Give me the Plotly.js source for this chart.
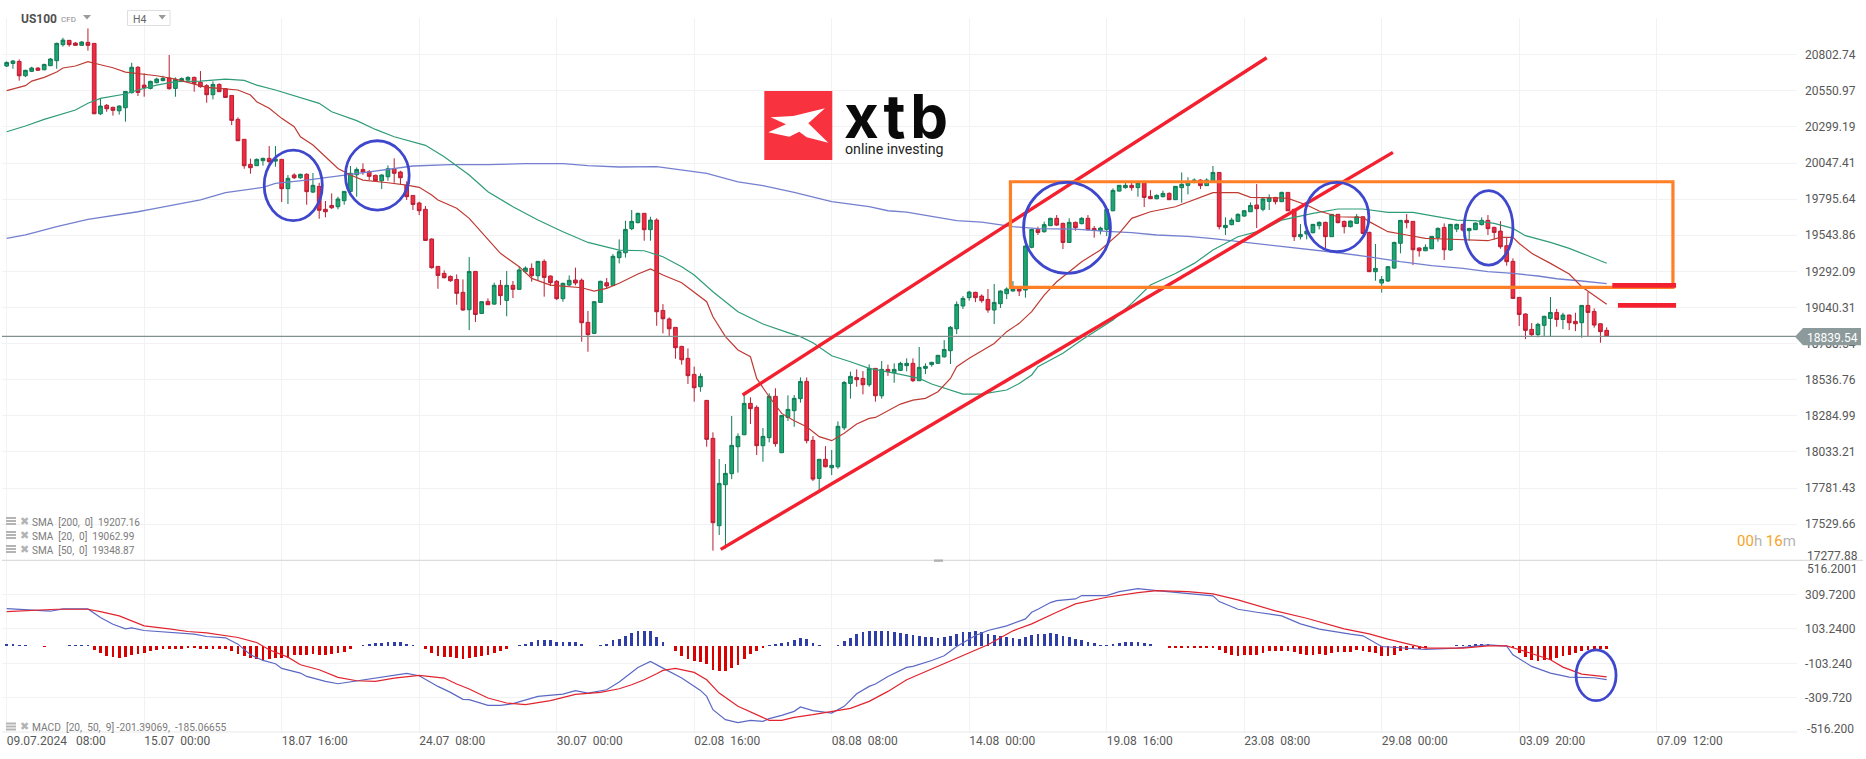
<!DOCTYPE html>
<html><head><meta charset="utf-8">
<script src="https://cdn.plot.ly/plotly-3.0.1.min.js"></script>
<style>html,body{margin:0;padding:0;background:#fff}#c{width:1866px;height:759px}</style>
</head><body><div id="c"></div>
<script>
const candleOpen=[20724,20742,20756,20656,20687,20710,20698,20726,20761,20873,
20903,20884,20868,20889,20882,20391,20450,20436,20412,20433,
20538,20715,20591,20568,20608,20622,20640,20568,20622,20626,
20645,20610,20587,20524,20596,20566,20519,20352,20213,20038,
20029,20064,20080,20061,20073,19869,19964,19945,19969,19845,
19885,19725,19752,19743,19785,19850,19966,20003,19987,19962,
19924,19952,20008,19985,19892,19822,19769,19725,19518,19327,
19278,19257,19236,19146,19025,19292,18999,19083,19064,19195,
19090,19195,19167,19290,19313,19262,19362,19260,19223,19102,
19197,19232,19230,18937,18860,19076,19213,19195,19388,19422,
19590,19632,19697,19583,19650,19020,18960,18902,18769,18686,
18574,18488,18393,18128,17519,17805,17882,18070,18153,18372,
18344,18077,18133,18421,18028,18274,18321,18405,18525,18114,
17849,17982,17923,17930,18202,18511,18553,18546,18502,18616,
18425,18609,18586,18602,18635,18651,18530,18616,18642,18651,
18697,18739,18892,19051,19109,19146,19120,19097,19023,19067,
19137,19155,19171,19162,19460,19585,19569,19611,19662,19627,
19494,19634,19625,19662,19592,19576,19585,19715,19852,19876,
19892,19876,19910,19815,19799,19813,19836,19792,19876,19892,
19915,19929,19890,19920,19982,19597,19618,19641,19678,19708,
19755,19725,19780,19808,19778,19843,19725,19534,19553,19562,
19611,19634,19534,19690,19641,19604,19627,19673,19564,19290,
19211,19225,19315,19488,19648,19641,19455,19436,19450,19527,
19599,19441,19587,19620,19576,19583,19618,19648,19599,19573,
19471,19362,19111,18995,18888,18851,18916,18964,19006,18957,
18988,18944,18934,19055,19013,18927,18881];
const candleHigh=[20756,20766,20770,20698,20719,20715,20740,20780,20887,20921,
20905,20891,20898,20986,20882,20494,20459,20440,20450,20547,
20747,20724,20673,20622,20642,20656,20801,20645,20645,20652,
20649,20689,20598,20617,20603,20568,20519,20366,20213,20078,
20080,20085,20166,20166,20073,19964,19976,19973,19976,19978,
19910,19783,19836,19813,19852,20027,20017,20045,19999,19966,
19969,20031,20080,19994,19920,19822,19778,19748,19522,19327,
19299,19264,19271,19236,19392,19295,19083,19104,19213,19232,
19295,19225,19325,19327,19348,19362,19376,19262,19232,19213,
19264,19318,19243,19016,19083,19227,19246,19413,19515,19645,
19720,19701,19697,19673,19662,19064,18972,18902,18774,18755,
18628,18581,18393,18170,17984,17949,18284,18163,18430,18414,
18358,18200,18442,18477,18290,18428,18430,18553,18553,18144,
17982,18074,18047,18246,18528,18593,18609,18597,18644,18616,
18667,18642,18651,18662,18686,18686,18765,18651,18662,18709,
18813,18911,19083,19120,19157,19150,19132,19169,19204,19160,
19181,19225,19181,19476,19590,19604,19639,19666,19685,19632,
19662,19639,19671,19685,19608,19604,19732,19871,19894,19910,
19910,19917,19917,19859,19829,19855,19843,19887,19982,19948,
19941,19934,19941,20027,19982,19669,19666,19697,19720,19773,
19901,19808,19829,19810,19848,19843,19725,19622,19604,19622,
19641,19639,19692,19692,19646,19646,19692,19673,19569,19483,
19260,19329,19499,19650,19692,19641,19460,19481,19539,19599,
19627,19622,19625,19625,19594,19632,19669,19685,19604,19643,
19527,19383,19111,18999,18932,18934,18983,19113,19030,19004,
18990,19004,19057,19148,19034,18930,18902];
const candleLow=[20717,20705,20622,20647,20682,20691,20694,20724,20705,20859,
20859,20866,20866,20831,20389,20382,20405,20378,20385,20336,
20533,20515,20510,20561,20603,20617,20559,20510,20617,20617,
20545,20573,20468,20491,20543,20503,20312,20201,20008,19973,
20027,20029,20041,20022,19776,19762,19936,19938,19757,19838,
19659,19669,19727,19725,19757,19848,19813,19966,19929,19917,
19866,19924,19910,19901,19790,19720,19685,19506,19311,19171,
19243,19220,19060,19018,18883,18939,18997,19057,19060,19057,
18979,19106,19164,19278,19220,19232,19116,19190,19092,19081,
19190,19195,18802,18732,18858,19074,19171,19192,19348,19388,
19580,19627,19506,19506,18913,18860,18841,18683,18642,18507,
18384,18453,18070,17345,17454,17361,17844,17889,18151,18228,
18012,17965,18100,18070,18026,18249,18209,18377,18093,17830,
17763,17926,17872,17916,18186,18405,18488,18435,18488,18384,
18405,18563,18516,18597,18595,18521,18528,18576,18628,18649,
18690,18646,18855,19030,19088,19078,19074,19004,18925,19037,
19099,19153,19120,19109,19453,19546,19562,19608,19608,19448,
19490,19576,19620,19578,19527,19550,19539,19711,19848,19869,
19855,19813,19741,19797,19794,19808,19790,19790,19771,19829,
19906,19866,19887,19915,19585,19546,19613,19636,19673,19706,
19594,19711,19720,19759,19776,19713,19504,19515,19515,19557,
19585,19453,19532,19627,19557,19599,19622,19550,19288,19227,
19144,19218,19311,19418,19592,19336,19395,19434,19448,19499,
19371,19436,19566,19569,19506,19580,19613,19546,19515,19450,
19332,19102,18911,18820,18841,18832,18837,18837,18906,18890,
18883,18876,18830,18837,18900,18795,18839];
const candleClose=[20749,20759,20656,20694,20710,20694,20735,20773,20882,20905,
20873,20868,20891,20868,20391,20445,20426,20415,20445,20547,
20715,20540,20573,20617,20633,20638,20566,20631,20636,20645,
20603,20580,20524,20596,20545,20505,20345,20203,20029,20015,
20073,20080,20057,20075,19869,19941,19945,19969,19848,19892,
19718,19708,19736,19797,19850,19976,20003,19985,19955,19924,
19964,20008,19976,19945,19813,19759,19715,19508,19318,19264,
19248,19227,19139,19023,19292,18992,19081,19060,19195,19123,
19195,19167,19302,19315,19262,19362,19250,19213,19102,19209,
19230,19211,18934,18851,19081,19223,19190,19397,19429,19585,
19641,19697,19583,19650,19011,18962,18892,18760,18676,18565,
18481,18560,18121,17540,17814,17884,18079,18142,18372,18335,
18077,18142,18421,18091,18288,18330,18407,18525,18112,17844,
17982,17930,17940,18212,18518,18560,18537,18502,18616,18425,
18609,18593,18609,18651,18651,18530,18623,18630,18658,18707,
18748,18902,19062,19104,19148,19109,19088,19023,19076,19155,
19169,19171,19155,19469,19585,19564,19618,19662,19615,19494,
19634,19597,19662,19583,19578,19594,19725,19857,19892,19892,
19876,19910,19808,19799,19822,19836,19792,19885,19899,19917,
19929,19890,19929,19982,19604,19613,19650,19690,19715,19752,
19729,19797,19806,19778,19843,19715,19534,19550,19573,19620,
19634,19534,19690,19632,19604,19643,19673,19557,19290,19313,
19236,19325,19494,19648,19632,19443,19436,19460,19536,19592,
19443,19620,19620,19580,19592,19629,19648,19590,19564,19464,
19360,19104,18992,18881,18851,18923,18979,19006,18957,18988,
18934,18927,19055,19006,18918,18872,18841];
const macdHist=[12,12,8,4,0,0,-4,0,0,3,
6,8,8,4,-22,-42,-58,-66,-70,-66,
-54,-48,-42,-28,-22,-16,-16,-16,-16,-12,
-10,-16,-16,-16,-16,-18,-28,-46,-62,-74,
-80,-84,-78,-74,-70,-70,-56,-54,-52,-46,
-52,-52,-48,-42,-34,-16,0,8,14,20,
20,26,26,26,12,8,0,-16,-40,-58,
-64,-66,-72,-80,-70,-68,-60,-54,-42,-28,
-18,0,4,14,26,38,38,38,26,26,
26,26,12,0,2,8,14,38,42,62,
82,92,92,92,56,26,0,-32,-58,-76,
-88,-94,-106,-142,-152,-148,-132,-112,-76,-46,
-28,-14,8,14,18,26,38,48,42,18,
6,2,0,8,32,48,74,88,92,92,
92,92,84,78,74,68,62,56,56,48,
56,62,74,84,88,92,84,74,68,62,
54,48,44,54,68,74,74,80,74,62,
56,44,38,26,20,8,8,12,20,26,
26,26,20,12,2,0,-12,-12,-14,-14,
-14,-14,-14,-14,-26,-44,-52,-58,-56,-52,
-52,-42,-32,-28,-28,-28,-38,-46,-52,-52,
-48,-52,-40,-34,-34,-34,-26,-32,-38,-42,
-58,-58,-52,-32,-26,-18,-18,-14,0,2,
0,2,4,6,8,12,12,12,8,2,
0,-12,-42,-66,-86,-88,-84,-82,-72,-58,
-52,-42,-32,-22,-18,-18,-16];

const sma20Bars=[0,3,4,6,8,9,11,13,15,17,19,22,24,27,29,32,34,37,39,40,42,44,46,47,49,51,53,55,57,61,64,66,68,69,72,74,77,79,82,84,87,89,92,94,96,98,101,103,105,108,110,112,113,115,117,119,120,122,124,126,128,130,132,134,136,138,139,141,143,145,147,149,151,152,154,158,160,162,164,166,168,170,172,175,178,180,183,187,190,193,197,199,204,205,208,210,213,217,218,221,224,227,230,233,237,239,241,242,244,247,250,252,256];
const sma20Vals=[20552,20587,20619,20645,20682,20710,20724,20754,20733,20712,20682,20668,20656,20633,20608,20575,20568,20557,20522,20475,20429,20359,20301,20231,20173,20092,20010,19964,19929,19910,19894,19878,19824,19790,19732,19662,19511,19418,19325,19243,19197,19190,19178,19155,19174,19209,19274,19309,19267,19213,19150,19081,18976,18837,18744,18697,18546,18418,18302,18251,18209,18140,18112,18163,18228,18267,18274,18321,18367,18395,18407,18453,18546,18628,18686,18790,18872,18930,19011,19127,19220,19290,19360,19441,19557,19662,19708,19743,19790,19841,19841,19808,19804,19801,19755,19713,19673,19669,19639,19569,19546,19522,19518,19511,19506,19529,19529,19487,19418,19348,19274,19185,19063];
const sma50Bars=[0,3,6,11,13,15,19,21,24,27,31,35,38,40,43,46,50,52,56,59,62,67,70,74,77,81,85,89,93,98,102,105,108,110,113,117,121,125,127,129,132,135,138,143,146,148,151,153,156,160,162,164,165,169,172,177,180,183,187,190,193,197,201,204,209,213,217,221,225,228,232,235,238,241,243,247,250,253,256];
const sma50Vals=[20266,20306,20352,20417,20464,20498,20529,20557,20591,20615,20619,20633,20624,20591,20557,20517,20464,20405,20343,20282,20231,20171,20092,19964,19848,19743,19650,19569,19494,19441,19436,19394,19325,19267,19150,19011,18925,18865,18837,18795,18704,18662,18616,18574,18546,18507,18465,18437,18437,18465,18511,18570,18628,18721,18813,18953,19069,19197,19278,19348,19441,19534,19580,19650,19697,19727,19727,19704,19704,19680,19650,19646,19627,19592,19541,19494,19453,19401,19349];
const sma200Bars=[0,3,5,8,13,18,21,23,26,31,35,41,43,48,55,60,65,71,77,83,89,93,98,104,107,112,117,121,126,132,138,141,144,152,156,161,165,171,176,180,184,189,193,197,203,207,213,218,223,228,233,237,241,245,248,252,256];
const sma200Vals=[19522,19546,19569,19604,19655,19685,19708,19725,19750,19790,19841,19878,19906,19929,19969,19999,20027,20036,20036,20043,20043,20029,20020,20022,20006,19976,19917,19890,19843,19778,19743,19715,19706,19646,19636,19604,19590,19587,19571,19562,19546,19536,19520,19501,19471,19453,19422,19394,19360,19332,19313,19290,19278,19260,19241,19225,19207];
const macdBars=[0,3,7,9,13,15,17,19,20,22,26,28,30,32,35,37,39,41,43,44,47,48,51,53,56,60,64,66,69,71,73,74,77,79,81,85,89,91,93,96,98,101,103,105,108,111,112,113,115,117,119,121,122,124,126,127,129,132,134,136,138,139,141,144,145,148,150,152,155,157,160,163,164,165,167,168,171,172,174,176,178,181,184,187,189,193,194,197,200,204,207,210,215,217,220,223,227,232,237,240,241,244,247,250,254,256];
const macdVals=[226,218,210,224,224,172,132,104,110,94,84,76,72,58,50,12,-52,-86,-106,-134,-162,-182,-212,-226,-208,-184,-164,-178,-242,-278,-320,-322,-356,-356,-346,-302,-288,-268,-282,-262,-216,-128,-92,-132,-192,-266,-302,-382,-442,-460,-446,-452,-436,-416,-392,-366,-388,-402,-362,-286,-242,-228,-182,-128,-122,-86,-58,-2,64,94,122,164,204,222,262,274,284,304,304,304,328,346,334,322,314,302,268,222,204,182,134,102,72,62,-2,-10,-20,-12,8,0,-52,-122,-162,-186,-190,-201];
const signalBars=[0,3,5,8,13,15,18,20,22,26,29,32,34,37,40,42,45,47,50,53,56,59,62,66,70,72,74,77,80,83,87,89,91,95,98,100,102,104,105,107,110,112,114,117,120,122,124,126,129,132,135,138,141,144,148,150,153,157,161,164,168,171,176,181,184,189,193,197,203,208,214,218,221,224,227,233,237,240,243,247,249,252,256];
const signalVals=[208,214,218,222,222,208,182,154,122,104,88,80,68,52,22,-22,-66,-112,-142,-188,-208,-212,-192,-176,-192,-228,-258,-312,-342,-352,-328,-308,-290,-278,-256,-232,-202,-166,-146,-134,-158,-202,-282,-362,-412,-446,-446,-428,-412,-392,-374,-332,-272,-202,-138,-106,-58,8,92,134,204,254,294,322,334,328,314,278,212,168,104,74,42,14,-12,-12,2,2,-32,-82,-126,-168,-185];

const dateTickBars=[0,22,44,66,88,110,132,154,176,198,220,242,264];
const dateTickText=["09.07.2024\u00a0\u00a0\u00a008:00","15.07\u00a0\u00a000:00","18.07\u00a0\u00a016:00","24.07\u00a0\u00a008:00","30.07\u00a0\u00a000:00","02.08\u00a0\u00a016:00","08.08\u00a0\u00a008:00","14.08\u00a0\u00a000:00","19.08\u00a0\u00a016:00","23.08\u00a0\u00a008:00","29.08\u00a0\u00a000:00","03.09\u00a0\u00a020:00","07.09\u00a0\u00a012:00"];
const priceTicks=[20802.74,20550.97,20299.19,20047.41,19795.64,19543.86,19292.09,19040.31,18788.54,18536.76,18284.99,18033.21,17781.43,17529.66,17277.88];
const macdTicks=[516.2001,309.72,103.24,-103.24,-309.72,-516.2];
const macdTickText=["","309.7200","103.2400","-103.240","-309.720",""];
const lastPrice=18839.54;

const PW=1795,PH=714,LEFT=2,TOP=18;
const X=p=>(p-LEFT)/PW, Y=p=>(TOP+PH-p)/PH;
const barIdx=candleOpen.map((_,i)=>i);
const grey='#585858';
const font='Roboto, sans-serif';

const traces=[
 {type:'scatter',mode:'lines',x:sma200Bars,y:sma200Vals,line:{color:'#7480cf',width:1.3},hoverinfo:'skip'},
 {type:'scatter',mode:'lines',x:sma50Bars,y:sma50Vals,line:{color:'#2f9c78',width:1.2},hoverinfo:'skip'},
 {type:'scatter',mode:'lines',x:sma20Bars,y:sma20Vals,line:{color:'#bf3a33',width:1.2},hoverinfo:'skip'},
 {type:'candlestick',x:barIdx,open:candleOpen,high:candleHigh,low:candleLow,close:candleClose,whiskerwidth:0,
  increasing:{line:{color:'#0f7a55',width:1},fillcolor:'#1ba672'},
  decreasing:{line:{color:'#b81d33',width:1},fillcolor:'#f02c41'},hoverinfo:'skip'},
 {type:'bar',x:barIdx,y:macdHist,yaxis:'y2',width:0.46,marker:{color:macdHist.map(v=>v>=0?'#2f3da6':'#d90000'),line:{width:0}},hoverinfo:'skip'},
 {type:'scatter',mode:'lines',x:macdBars,y:macdVals,yaxis:'y2',line:{color:'#5b68c4',width:1.2},hoverinfo:'skip'},
 {type:'scatter',mode:'lines',x:signalBars,y:signalVals,yaxis:'y2',line:{color:'#e2242e',width:1.2},hoverinfo:'skip'}
];

const redLine=(x0,y0,x1,y1,w)=>({type:'line',xref:'x',yref:'y',x0,y0,x1,y1,line:{color:'#f3202f',width:w}});
const ring=(x0,x1,y0,y1,yref)=>({type:'circle',xref:'x',yref:yref||'y',x0,x1,y0,y1,line:{color:'#3f48cc',width:2.8}});
const pxPath=(pts,fill,extra)=>Object.assign({type:'path',xref:'paper',yref:'paper',
  path:'M '+pts.map(p=>X(p[0])+','+Y(p[1])).join(' L ')+' Z',fillcolor:fill,line:{width:0}},extra||{});
const pxRect=(x0,y0,x1,y1,fill,lc,lw)=>({type:'rect',xref:'paper',yref:'paper',x0:X(x0),x1:X(x1),y0:Y(y0),y1:Y(y1),fillcolor:fill,line:{color:lc||fill,width:lw||0}});

const shapes=[
 {type:'line',xref:'paper',yref:'paper',x0:0,x1:X(1863),y0:Y(560.4),y1:Y(560.4),line:{color:'#dcdcdc',width:1.2}},
 {type:'line',xref:'paper',yref:'paper',x0:0,x1:1,y0:Y(732),y1:Y(732),line:{color:'#e9e9e9',width:1}},
 pxRect(934,559.5,943,561.8,'#b0b0b0'),
 {type:'line',xref:'paper',yref:'y',x0:0,x1:1,y0:lastPrice,y1:lastPrice,line:{color:'#80908f',width:1.2}},
 pxPath([[1795,336.7],[1803,328],[1861,328],[1861,345.3],[1803,345.3]],'#8c9a9c'),
 redLine(117.75,18430,201.6,20782,3.4),
 redLine(114.25,17354,221.8,20122,3.4),
 {type:'rect',xref:'x',yref:'y',x0:160.6,x1:266.6,y0:19181,y1:19917,line:{color:'#ff7f27',width:3.2}},
 redLine(256.9,19195,267.1,19195,4.6),
 redLine(257.8,19055,267.1,19055,4.6),
 ring(41.2,50.5,19646,20138),
 ring(54.2,64.4,19720,20203),
 ring(162.7,176.6,19278,19913),
 ring(207.7,217.95,19429,19913),
 ring(233.2,241,19336,19855),
 ring(251.1,257.5,-328,-22,'y2'),
 // logo
 pxRect(764.3,91,832.3,160,'#f9323f'),
 pxPath([[770.7,117.3],[793.3,116],[825,108.3],[808.3,123.3],[828.3,142.7],[806.7,137.3],[799.3,131.7],[789.3,136.7],[768.3,132.3],[786,124.3]],'#ffffff'),
 // toolbar
 pxPath([[83,15],[91,15],[87,19.5]],'#9a9a9a'),
 pxRect(127.5,10.5,170,25.5,'rgba(0,0,0,0)','#dedede',1),
 pxPath([[158.5,15],[166,15],[162.2,19.5]],'#9a9a9a')
];
[522,536,550,727.5].forEach(y=>{
  [-5,-2,1].forEach(d=>shapes.push(pxRect(6,y+d,16,y+d+2,'#b4b4b4')));
});

const note=(text,px,py,size,color,anchor,extra)=>Object.assign({text,xref:'paper',yref:'paper',x:X(px),y:Y(py),
  xanchor:anchor||'left',yanchor:'middle',showarrow:false,borderpad:0,font:{family:font,size,color}},extra||{});
const legendGrey='#7b7b7b';
const annotations=[
 note('<b>US100</b>',20,19.5,12,'#505050'),
 note('CFD',60,19.5,8,'#8a8a8a'),
 note('H4',132,20,10.5,'#666666'),
 note('18839.54',1806,337.5,12,'#ffffff'),
 note('17277.88',1806,555.5,12,grey),
 note('516.2001',1806,568.5,12,grey),
 note('-516.200',1806,729,12,grey),
 note('SMA\u00a0\u00a0[200,\u00a0\u00a00]\u00a0\u00a019207.16',31,522.5,10,legendGrey),
 note('SMA\u00a0\u00a0[20,\u00a0\u00a00]\u00a0\u00a019062.99',31,536.5,10,legendGrey),
 note('SMA\u00a0\u00a0[50,\u00a0\u00a00]\u00a0\u00a019348.87',31,550.5,10,legendGrey),
 note('MACD\u00a0\u00a0[20,\u00a0\u00a050,\u00a0\u00a09]\u00a0-201.39069,\u00a0\u00a0-185.06655',31,727.5,10.2,legendGrey),
 note('<span style="color:#f7a325">00</span>h <span style="color:#f7a325">16</span>m',1797,541,15,'#b5b5b5','right'),
 note('<b>x\u200at\u200ab</b>',843,116,60,'#0a0a0a','left',{font:{family:'Inter, "Liberation Sans", sans-serif',size:60,color:'#0a0a0a',weight:900}}),
 note('online investing',844,148.5,14.2,'#222222')
];
[522,536,550,727.5].forEach(y=>annotations.push(note('\u2716',18.5,y-1,11,'#b4b4b4','left',{font:{family:'"DejaVu Sans"',size:11,color:'#b4b4b4'}})));

const layout={
 width:1866,height:759,showlegend:false,paper_bgcolor:'#fff',plot_bgcolor:'#fff',
 margin:{l:LEFT,r:1866-LEFT-PW,t:TOP,b:759-TOP-PH,pad:0},
 boxgap:0.2,boxgroupgap:0.26,bargap:0,
 xaxis:{type:'linear',domain:[0,1],anchor:'y2',range:[-0.75,286.45],autorange:false,rangeslider:{visible:false},
  tickmode:'array',tickvals:dateTickBars,ticktext:dateTickText,ticklabelposition:'outside right',
  showgrid:true,gridcolor:'#f1f2f3',gridwidth:1,zeroline:false,showline:false,ticks:'',
  tickfont:{family:font,size:12,color:grey}},
 yaxis:{domain:[(732-560.3)/714,1],anchor:'x',side:'right',range:[17277.88,21058.8],autorange:false,
  tickmode:'array',tickvals:priceTicks,ticktext:priceTicks.map((v,i)=>i===priceTicks.length-1?'':v.toFixed(2)),
  showgrid:true,gridcolor:'#f1f2f3',gridwidth:1,zeroline:false,showline:false,ticks:'',ticklabelstandoff:7,
  tickfont:{family:font,size:12,color:grey}},
 yaxis2:{domain:[0,(732-560.3)/714],anchor:'x',side:'right',range:[-516.2,516.2],autorange:false,
  tickmode:'array',tickvals:macdTicks,ticktext:macdTickText,
  showgrid:true,gridcolor:'#f1f2f3',gridwidth:1,zeroline:false,showline:false,ticks:'',ticklabelstandoff:7,
  tickfont:{family:font,size:12,color:grey}},
 shapes,annotations
};
Plotly.newPlot('c',traces,layout,{displayModeBar:false,staticPlot:true,responsive:false});
</script></body></html>
